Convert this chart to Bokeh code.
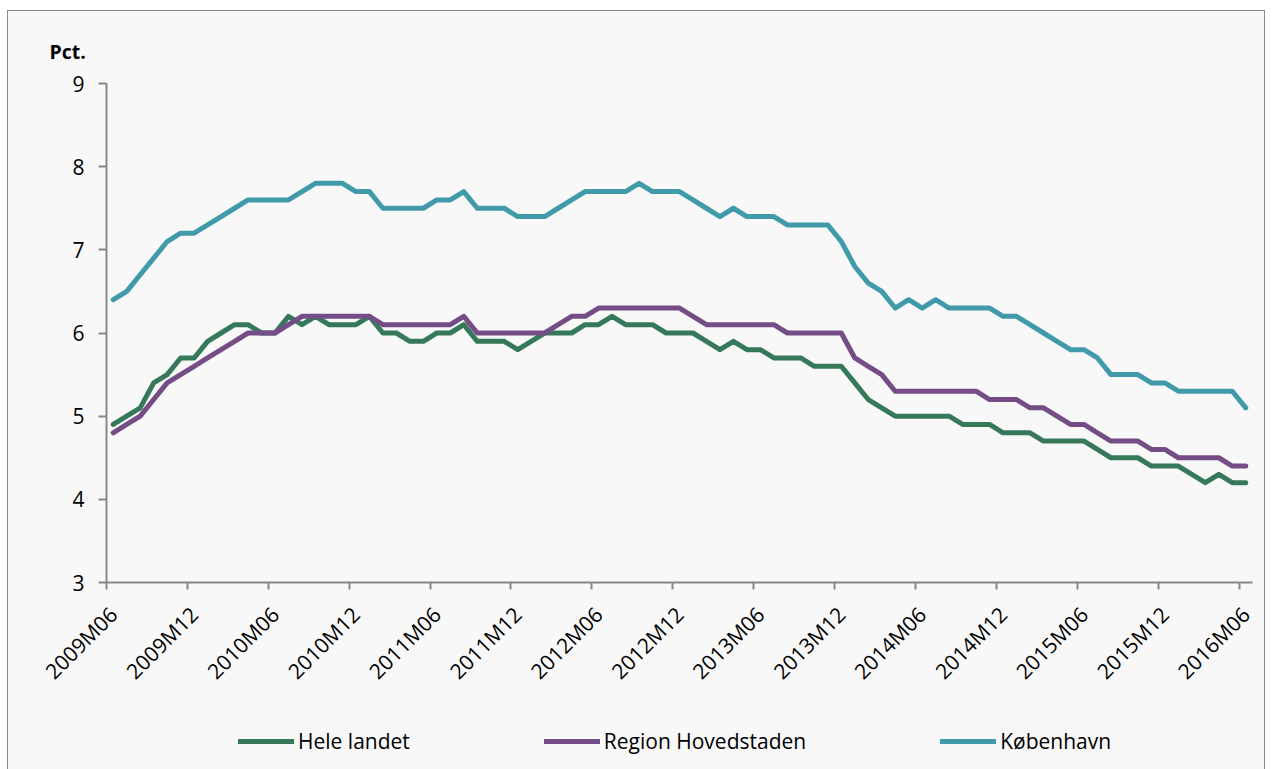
import numpy as np
from bokeh.plotting import figure
from bokeh.layouts import column
from bokeh.models import (Range1d, FixedTicker, Legend, LegendItem, ColumnDataSource)
from bokeh.embed import file_html
from bokeh.resources import INLINE

# ---------------- data ----------------
months = [f"{2009 + (5 + i) // 12}M{(5 + i) % 12 + 1:02d}" for i in range(85)]  # 2009M06 .. 2016M06

hele_landet = [4.9, 5.0, 5.1, 5.4, 5.5, 5.7, 5.7, 5.9, 6.0, 6.1, 6.1, 6.0,
               6.0, 6.2, 6.1, 6.2, 6.1, 6.1, 6.1, 6.2, 6.0, 6.0, 5.9, 5.9,
               6.0, 6.0, 6.1, 5.9, 5.9, 5.9, 5.8, 5.9, 6.0, 6.0, 6.0, 6.1,
               6.1, 6.2, 6.1, 6.1, 6.1, 6.0, 6.0, 6.0, 5.9, 5.8, 5.9, 5.8,
               5.8, 5.7, 5.7, 5.7, 5.6, 5.6, 5.6, 5.4, 5.2, 5.1, 5.0, 5.0,
               5.0, 5.0, 5.0, 4.9, 4.9, 4.9, 4.8, 4.8, 4.8, 4.7, 4.7, 4.7,
               4.7, 4.6, 4.5, 4.5, 4.5, 4.4, 4.4, 4.4, 4.3, 4.2, 4.3, 4.2,
               4.2]

region_hovedstaden = [4.8, 4.9, 5.0, 5.2, 5.4, 5.5, 5.6, 5.7, 5.8, 5.9, 6.0, 6.0,
                      6.0, 6.1, 6.2, 6.2, 6.2, 6.2, 6.2, 6.2, 6.1, 6.1, 6.1, 6.1,
                      6.1, 6.1, 6.2, 6.0, 6.0, 6.0, 6.0, 6.0, 6.0, 6.1, 6.2, 6.2,
                      6.3, 6.3, 6.3, 6.3, 6.3, 6.3, 6.3, 6.2, 6.1, 6.1, 6.1, 6.1,
                      6.1, 6.1, 6.0, 6.0, 6.0, 6.0, 6.0, 5.7, 5.6, 5.5, 5.3, 5.3,
                      5.3, 5.3, 5.3, 5.3, 5.3, 5.2, 5.2, 5.2, 5.1, 5.1, 5.0, 4.9,
                      4.9, 4.8, 4.7, 4.7, 4.7, 4.6, 4.6, 4.5, 4.5, 4.5, 4.5, 4.4,
                      4.4]

koebenhavn = [6.4, 6.5, 6.7, 6.9, 7.1, 7.2, 7.2, 7.3, 7.4, 7.5, 7.6, 7.6,
              7.6, 7.6, 7.7, 7.8, 7.8, 7.8, 7.7, 7.7, 7.5, 7.5, 7.5, 7.5,
              7.6, 7.6, 7.7, 7.5, 7.5, 7.5, 7.4, 7.4, 7.4, 7.5, 7.6, 7.7,
              7.7, 7.7, 7.7, 7.8, 7.7, 7.7, 7.7, 7.6, 7.5, 7.4, 7.5, 7.4,
              7.4, 7.4, 7.3, 7.3, 7.3, 7.3, 7.1, 6.8, 6.6, 6.5, 6.3, 6.4,
              6.3, 6.4, 6.3, 6.3, 6.3, 6.3, 6.2, 6.2, 6.1, 6.0, 5.9, 5.8,
              5.8, 5.7, 5.5, 5.5, 5.5, 5.4, 5.4, 5.3, 5.3, 5.3, 5.3, 5.3,
              5.1]

series_names = ["Hele landet", "Region Hovedstaden", "København"]
series_cols = ["hele", "region", "kbh"]
series_colors = ["#36785a", "#744c86", "#409aaa"]
y_ticks = [3, 4, 5, 6, 7, 8, 9]
label_step = 6
tick_labels = months[::label_step]

FONT = "Open Sans"
AXIS_COLOR = "#878787"
BG = "#f8f8f8"
W = 1256

idx = list(range(len(months)))
source = ColumnDataSource(dict(i=idx, month=months, hele=hele_landet,
                               region=region_hovedstaden, kbh=koebenhavn))

# ---------------- main chart ----------------
p = figure(width=W, height=690, output_backend="svg", toolbar_location=None,
           x_range=Range1d(-0.5, len(months) - 0.5), y_range=Range1d(min(y_ticks), max(y_ticks)),
           min_border_left=98, min_border_right=12, min_border_top=72, min_border_bottom=119,
           background_fill_color=BG, border_fill_color=BG, outline_line_color=None)

for g in p.grid:
    g.visible = False

p.title.text = "Pct."
p.title.align = "left"
p.title.offset = -57
p.title.standoff = 37
p.title.text_font = FONT
p.title.text_font_style = "bold"
p.title.text_font_size = "19.5px"
p.title.text_color = "#000000"

# y axis
ya = p.yaxis[0]
ya.ticker = FixedTicker(ticks=y_ticks)
ya.axis_line_color = AXIS_COLOR
ya.axis_line_width = 2
ya.major_tick_line_color = AXIS_COLOR
ya.major_tick_line_width = 2
ya.major_tick_out = 8
ya.major_tick_in = 0
ya.minor_tick_line_color = None
ya.major_label_text_font = FONT
ya.major_label_text_font_size = "21px"
ya.major_label_text_color = "#000000"
ya.major_label_standoff = 14

# x axis: labels at category centres, tick marks at category boundaries
label_positions = idx[::label_step]
xa = p.xaxis[0]
xa.ticker = FixedTicker(ticks=label_positions, minor_ticks=[k - 0.5 for k in label_positions])
xa.major_label_overrides = {k: lab for k, lab in zip(label_positions, tick_labels)}
xa.axis_line_color = AXIS_COLOR
xa.axis_line_width = 2
xa.major_tick_line_color = None
xa.major_tick_out = 0
xa.major_tick_in = 0
xa.minor_tick_line_color = AXIS_COLOR
xa.minor_tick_line_width = 2
xa.minor_tick_out = 7
xa.minor_tick_in = 0
xa.major_label_orientation = np.pi / 4
xa.major_label_text_font = FONT
xa.major_label_text_font_size = "21px"
xa.major_label_text_color = "#000000"
xa.major_label_standoff = 21

for col, color in zip(series_cols, series_colors):
    p.line("i", col, source=source, line_color=color, line_width=5,
           line_join="round", line_cap="round")

# ---------------- legend strip ----------------
# the same series are drawn here only to feed the legend; this figure's
# ranges lie outside the data, so no line shows in the strip itself.
p2 = figure(width=W, height=68, output_backend="svg", toolbar_location=None,
            x_range=Range1d(-1000, -999), y_range=Range1d(-1000, -999),
            x_axis_location=None, y_axis_location=None,
            min_border_left=0, min_border_right=0, min_border_top=0, min_border_bottom=0,
            background_fill_color=BG, border_fill_color=BG, outline_line_color=None)
for g in p2.grid:
    g.visible = False

legend_renderers = []
for col, color in zip(series_cols, series_colors):
    r = p2.line("i", col, source=source, line_color=color, line_width=5, line_cap="round")
    legend_renderers.append(r)

legend = Legend(items=[LegendItem(label=n, renderers=[r]) for n, r in zip(series_names, legend_renderers)],
                orientation="horizontal", location=(132, 14),
                glyph_width=56, glyph_height=24, label_standoff=4, spacing=134,
                padding=0, margin=0, border_line_color=None, background_fill_alpha=0,
                label_text_font=FONT, label_text_font_size="21px", label_text_color="#000000")
p2.add_layout(legend, "center")

layout = column(p, p2, spacing=0,
                styles={"margin-left": "7px", "margin-top": "10px",
                        "background-color": BG,
                        "border-top": "1px solid #8a8a8a",
                        "border-left": "1px solid #8a8a8a",
                        "border-right": "1px solid #8a8a8a"})

open("out.html", "w").write(file_html(layout, INLINE))
